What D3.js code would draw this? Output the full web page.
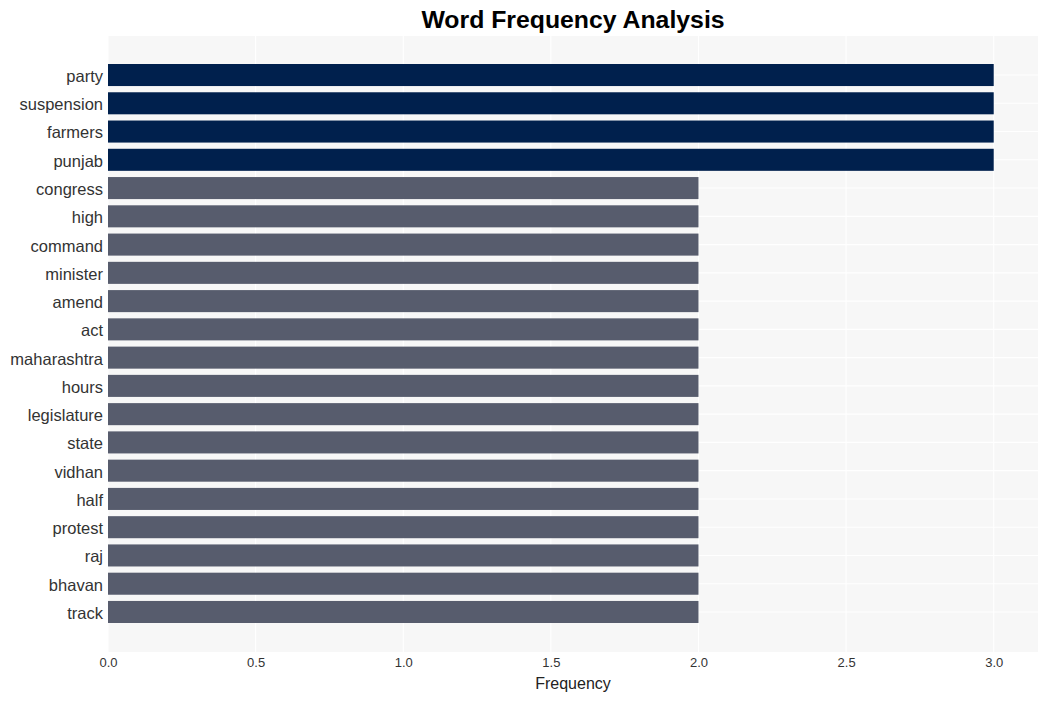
<!DOCTYPE html>
<html><head><meta charset="utf-8">
<script src="https://cdn.jsdelivr.net/npm/d3@7"></script>
<style>body{margin:0;background:#fff;} text{font-family:"Liberation Sans",Arial,sans-serif;}</style>
</head><body><svg id="c" width="1048" height="701"></svg>
<script>
const words = ["party","suspension","farmers","punjab","congress","high","command","minister","amend","act","maharashtra","hours","legislature","state","vidhan","half","protest","raj","bhavan","track"];
const freqs = [3,3,3,3,2,2,2,2,2,2,2,2,2,2,2,2,2,2,2,2];
const xTicks = [0,0.5,1,1.5,2,2.5,3];
const title = "Word Frequency Analysis";
const xTitle = "Frequency";
const colorHigh = "#00204D", colorLow = "#575C6D";

const svg = d3.select("#c");
const pL=108, pR=1038, pT=36, pB=652;
const x = d3.scaleLinear().domain([0,3.15]).range([pL,pR]);
const y = d3.scaleBand().domain(words).range([60.9,626.1]).paddingInner(0.22).paddingOuter(0.11);

svg.append("rect").attr("x",pL).attr("y",pT).attr("width",pR-pL).attr("height",pB-pT).attr("fill","#f7f7f7");
svg.append("g").selectAll("line").data(xTicks).join("line")
  .attr("x1",d=>x(d)).attr("x2",d=>x(d)).attr("y1",pT).attr("y2",pB)
  .attr("stroke","#fff").attr("stroke-width",1.1);
svg.append("g").selectAll("line").data(words).join("line")
  .attr("x1",pL).attr("x2",pR).attr("y1",d=>y(d)+y.bandwidth()/2).attr("y2",d=>y(d)+y.bandwidth()/2)
  .attr("stroke","#fff").attr("stroke-width",1.1);

svg.append("g").selectAll("rect").data(words).join("rect")
  .attr("x",x(0)).attr("y",d=>y(d)).attr("height",y.bandwidth())
  .attr("width",(d,i)=>x(freqs[i])-x(0))
  .attr("fill",(d,i)=>freqs[i]>=3?colorHigh:colorLow);

const yAxis = svg.append("g").attr("transform",`translate(${pL},0)`)
  .call(d3.axisLeft(y).tickSize(0).tickPadding(5));
yAxis.select(".domain").remove();
yAxis.selectAll("text").attr("font-size","16.5px").attr("dy","0.42em").attr("fill","#333").attr("font-family","Liberation Sans, Arial, sans-serif");

const xAxis = svg.append("g").attr("transform",`translate(0,${pB})`)
  .call(d3.axisBottom(x).tickValues(xTicks).tickFormat(d3.format(".1f")).tickSize(0).tickPadding(5));
xAxis.select(".domain").remove();
xAxis.selectAll("text").attr("font-size","13px").attr("dy","0.8em").attr("fill","#333").attr("font-family","Liberation Sans, Arial, sans-serif");

svg.append("text").attr("x",(pL+pR)/2).attr("y",689).attr("text-anchor","middle")
  .attr("font-size","16px").attr("fill","#222").text(xTitle);
svg.append("text").attr("x",(pL+pR)/2).attr("y",28).attr("text-anchor","middle")
  .attr("font-size","24.8px").attr("font-weight","bold").attr("fill","#000").text(title);
</script></body></html>
